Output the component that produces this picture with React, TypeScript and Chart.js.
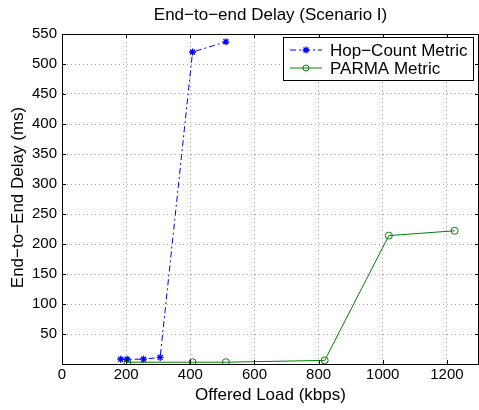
import React, { useEffect, useRef } from "react";
import { Chart, registerables } from "chart.js";

Chart.register(...registerables);

const titleText = "End\u2212to\u2212end Delay (Scenario I)";
const xTitle = "Offered Load (kbps)";
const yTitle = "End\u2212to\u2212End Delay (ms)";
const seriesNames = ["Hop\u2212Count Metric", "PARMA Metric"];

const hopX = [183, 203, 254, 306, 407, 511];
const hopY = [8, 8, 8, 11, 520, 537];
const parmaX = [204, 407, 511, 819, 1019, 1224];
const parmaY = [3, 3, 3, 6, 214, 222];

const xTicks = [0, 200, 400, 600, 800, 1000, 1200];
const yTicks = [0, 50, 100, 150, 200, 250, 300, 350, 400, 450, 500, 550];

const FONT = "Liberation Sans, Arial, Helvetica, sans-serif";

const decorPlugin = {
  id: "decor",
  afterDraw(chart: any) {
    const ctx = chart.ctx;
    const a = chart.chartArea;
    const xs = chart.scales.x;
    const ys = chart.scales.y;
    ctx.save();
    ctx.strokeStyle = "#000";
    ctx.lineWidth = 1;
    ctx.setLineDash([]);
    ctx.strokeRect(a.left + 0.5, a.top + 0.5, a.right - a.left - 1, a.bottom - a.top);
    ctx.beginPath();
    for (const v of xTicks) {
      const px = Math.round(xs.getPixelForValue(v)) + 0.5;
      ctx.moveTo(px, a.bottom);
      ctx.lineTo(px, a.bottom - 4);
      ctx.moveTo(px, a.top);
      ctx.lineTo(px, a.top + 4);
    }
    for (const v of yTicks) {
      const py = Math.round(ys.getPixelForValue(v)) + 0.5;
      ctx.moveTo(a.left, py);
      ctx.lineTo(a.left + 4, py);
      ctx.moveTo(a.right, py);
      ctx.lineTo(a.right - 4, py);
    }
    ctx.stroke();

    ctx.fillStyle = "#000";
    ctx.font = "17px " + FONT;
    ctx.textAlign = "center";
    ctx.textBaseline = "middle";
    ctx.fillText(titleText, (a.left + a.right) / 2, 15);
    ctx.fillText(xTitle, (a.left + a.right) / 2, 395);
    ctx.save();
    ctx.translate(18, (a.top + a.bottom) / 2 - 1.5);
    ctx.rotate(-Math.PI / 2);
    ctx.fillText(yTitle, 0, 0);
    ctx.restore();

    const lx = 283, ly = 37, lw = 190, lh = 43;
    ctx.fillStyle = "#fff";
    ctx.fillRect(lx, ly, lw, lh);
    ctx.strokeStyle = "#000";
    ctx.strokeRect(lx + 0.5, ly + 0.5, lw, lh);
    ctx.font = "17px " + FONT;
    ctx.textAlign = "left";
    ctx.fillStyle = "#000";
    const rows = [ly + 13, ly + 31];
    chart.data.datasets.forEach((ds: any, i: number) => {
      const y = rows[i];
      ctx.save();
      ctx.strokeStyle = ds.borderColor;
      ctx.lineWidth = 1;
      ctx.setLineDash(ds.borderDash || []);
      ctx.beginPath();
      ctx.moveTo(290, y);
      ctx.lineTo(322, y);
      ctx.stroke();
      ctx.setLineDash([]);
      if (i === 0) {
        ctx.lineWidth = 1.3;
        ctx.beginPath();
        for (let k = 0; k < 4; k++) {
          const ang = (k * Math.PI) / 4;
          ctx.moveTo(306 - 3.5 * Math.cos(ang), y - 3.5 * Math.sin(ang));
          ctx.lineTo(306 + 3.5 * Math.cos(ang), y + 3.5 * Math.sin(ang));
        }
        ctx.stroke();
      } else {
        ctx.beginPath();
        ctx.arc(306, y, 3, 0, Math.PI * 2);
        ctx.stroke();
      }
      ctx.restore();
      ctx.fillText(seriesNames[i], 330, y + 1);
    });
    ctx.restore();
  },
};

export default function App() {
  const ref = useRef<HTMLCanvasElement>(null);
  useEffect(() => {
    if (!ref.current) return;
    const chart = new Chart(ref.current, {
      type: "line",
      data: {
        datasets: [
          {
            label: seriesNames[0],
            data: hopX.map((x, i) => ({ x, y: hopY[i] })),
            borderColor: "#0000ff",
            backgroundColor: "#0000ff",
            borderWidth: 1,
            borderDash: [6, 3, 2, 3],
            pointStyle: "star",
            pointRadius: 3.5,
            pointBorderWidth: 1.3,
            fill: false,
            tension: 0,
          },
          {
            label: seriesNames[1],
            data: parmaX.map((x, i) => ({ x, y: parmaY[i] })),
            borderColor: "#008000",
            backgroundColor: "transparent",
            borderWidth: 1,
            pointStyle: "circle",
            pointRadius: 3.5,
            pointBorderWidth: 1,
            fill: false,
            tension: 0,
          },
        ],
      },
      options: {
        animation: false,
        responsive: false,
        layout: { autoPadding: false, padding: { top: 34, right: 0, left: 0, bottom: 0 } },
        plugins: {
          legend: { display: false },
          title: { display: false },
          tooltip: { enabled: false },
        },
        scales: {
          x: {
            type: "linear",
            min: 0,
            max: 1300,
            afterFit: (s: any) => {
              s.height = 46;
              s.paddingLeft = 0;
              s.paddingRight = 0;
            },
            afterBuildTicks: (s: any) => {
              s.ticks = xTicks.map((v) => ({ value: v }));
            },
            grid: {
              color: "#a8a8a8",
              drawTicks: false,
            },
            border: { display: true, color: "#000", dash: [1, 3] },
            ticks: {
              color: "#000",
              font: { family: FONT, size: 15 },
              padding: 2,
              maxRotation: 0,
              callback: (v: any) => String(v),
            },
          },
          y: {
            type: "linear",
            min: 0,
            max: 550,
            afterFit: (s: any) => {
              s.width = 62;
              s.paddingTop = 0;
              s.paddingBottom = 0;
            },
            afterBuildTicks: (s: any) => {
              s.ticks = yTicks.map((v) => ({ value: v }));
            },
            grid: {
              color: "#a8a8a8",
              drawTicks: false,
            },
            border: { display: true, color: "#000", dash: [1, 3] },
            ticks: {
              color: "#000",
              font: { family: FONT, size: 15 },
              padding: 5,
              callback: (v: any) => (v === 0 ? "" : String(v)),
            },
          },
        },
      },
      plugins: [decorPlugin],
    } as any);
    return () => chart.destroy();
  }, []);
  return (
    <div style={{ position: "fixed", left: 0, top: 0, width: 479, height: 410, background: "#fff" }}>
      <canvas ref={ref} width={479} height={410} style={{ width: 479, height: 410 }} />
    </div>
  );
}
